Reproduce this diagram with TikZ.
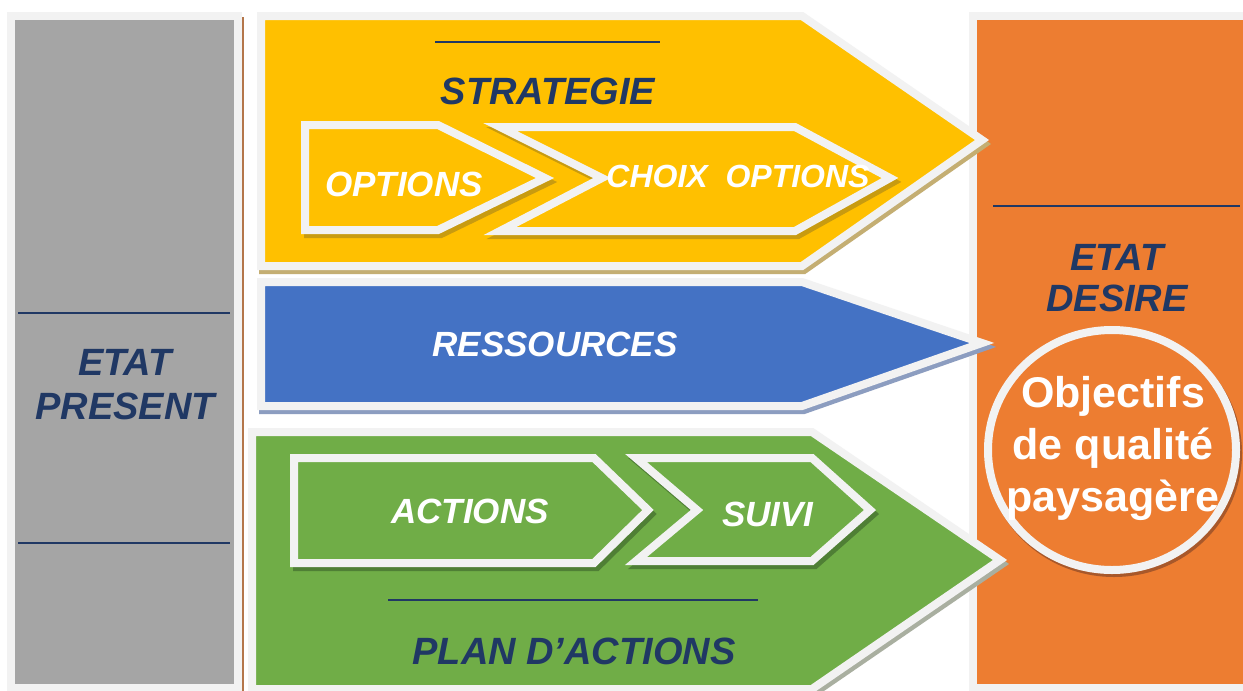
\documentclass[tikz,border=0pt]{standalone}
\usepackage{fontspec}
\setmainfont{Liberation Sans}
\definecolor{cgray}{HTML}{A5A5A5}
\definecolor{cyellow}{HTML}{FFC000}
\definecolor{cblue}{HTML}{4472C4}
\definecolor{cgreen}{HTML}{70AD47}
\definecolor{corange}{HTML}{ED7D31}
\definecolor{cnavy}{HTML}{203864}
\definecolor{cframe}{HTML}{F2F2F2}
\definecolor{ctan}{HTML}{C4AE72}
\definecolor{cdkyellow}{HTML}{C89B10}
\definecolor{cbluesh}{HTML}{8C9DC0}
\definecolor{cgreensh}{HTML}{4F7F35}
\definecolor{cgraysh}{HTML}{A9AFA0}
\definecolor{cbrown}{HTML}{B4764A}
\definecolor{corsh}{HTML}{A8582A}
\tikzset{
  frame/.style={draw=cframe, line width=8pt, line join=miter},
  shad/.style={draw=#1, fill=#1, line width=8pt, line join=miter},
  rule/.style={draw=cnavy, line width=1.6pt},
  title/.style={font=\fontsize{38}{40}\selectfont\bfseries\itshape, text=cnavy, inner sep=0pt, align=center},
  inner/.style={font=\fontsize{35}{38}\selectfont\bfseries\itshape, text=white, inner sep=0pt},
  obj/.style={font=\fontsize{43}{52}\selectfont\bfseries, text=white, inner sep=0pt, align=center}
}
\begin{document}
\begin{tikzpicture}[x=1pt,y=-1pt]
\useasboundingbox (0,0) rectangle (1243,691);
\fill[white] (0,0) rectangle (1243,691);
% gray panel
\draw[frame, fill=cgray] (11,16) rectangle (238,688);
\draw[cbrown, line width=2.5pt] (243,17) -- (243,691);
\draw[rule] (18,313) -- (230,313);
\draw[rule] (18,543) -- (230,543);
\node[title] (present) at (125,385) {ETAT\\[4pt]PRESENT};
% orange panel
\draw[frame, fill=corange] (973,16) rectangle (1250,688);
\draw[rule] (993,206) -- (1240,206);
\node[title] (desire) at (1117,278) {ETAT\\[1pt]DESIRE};
% yellow strategy
\draw[shad=ctan, shift={(2,4)}] (261,16) -- (802,16) -- (982,140) -- (802,266) -- (261,266) -- cycle;
\draw[frame, fill=cyellow] (261,16) -- (802,16) -- (982,140) -- (802,266) -- (261,266) -- cycle;
\draw[rule] (435,42) -- (660,42);
\node[title] (strategie) at (548,91) {STRATEGIE};
\draw[shad=cdkyellow, shift={(3,4)}] (305,125) -- (438,125) -- (545,178) -- (438,230) -- (305,230) -- cycle;
\draw[frame, fill=cyellow] (305,125) -- (438,125) -- (545,178) -- (438,230) -- (305,230) -- cycle;
\node[inner] (options) at (404,184) {OPTIONS};
\draw[shad=cdkyellow, shift={(3,4)}] (500,127) -- (795,127) -- (890,178) -- (795,231) -- (500,231) -- (602,178) -- cycle;
\draw[frame, fill=cyellow] (500,127) -- (795,127) -- (890,178) -- (795,231) -- (500,231) -- (602,178) -- cycle;
\node[font=\fontsize{32}{34}\selectfont\bfseries\itshape, text=white, inner sep=0pt] (choix) at (738,176) {CHOIX\ \ OPTIONS};
% blue resources
\draw[shad=cbluesh, shift={(2,4)}] (261,282) -- (802,282) -- (982,343) -- (802,406) -- (261,406) -- cycle;
\draw[frame, fill=cblue] (261,282) -- (802,282) -- (982,343) -- (802,406) -- (261,406) -- cycle;
\node[inner] (ressources) at (555,344) {RESSOURCES};
% green plan
\draw[shad=cgraysh, shift={(2,4)}] (252,432) -- (812,432) -- (1000,560) -- (812,689) -- (252,689) -- cycle;
\draw[frame, fill=cgreen] (252,432) -- (812,432) -- (1000,560) -- (812,689) -- (252,689) -- cycle;
\draw[shad=cgreensh, shift={(3,4)}] (294,458) -- (594,458) -- (648,510) -- (594,563) -- (294,563) -- cycle;
\draw[frame, fill=cgreen] (294,458) -- (594,458) -- (648,510) -- (594,563) -- (294,563) -- cycle;
\node[inner] (actions) at (470,511) {ACTIONS};
\draw[shad=cgreensh, shift={(3,4)}] (636,458) -- (812,458) -- (870,510) -- (812,561) -- (636,561) -- (697,510) -- cycle;
\draw[frame, fill=cgreen] (636,458) -- (812,458) -- (870,510) -- (812,561) -- (636,561) -- (697,510) -- cycle;
\node[inner] (suivi) at (768,514) {SUIVI};
\draw[rule] (388,600) -- (758,600);
\node[title] (plan) at (574,651) {PLAN D’ACTIONS};
% objectives circle
\draw[shad=corsh] (1114,453) ellipse (124 and 120);
\draw[frame, fill=corange] (1112,450) ellipse (124 and 120);
\node[obj] (objectifs) at (1113,448) {Objectifs\\de qualité\\paysagère};
\end{tikzpicture}
\end{document}
